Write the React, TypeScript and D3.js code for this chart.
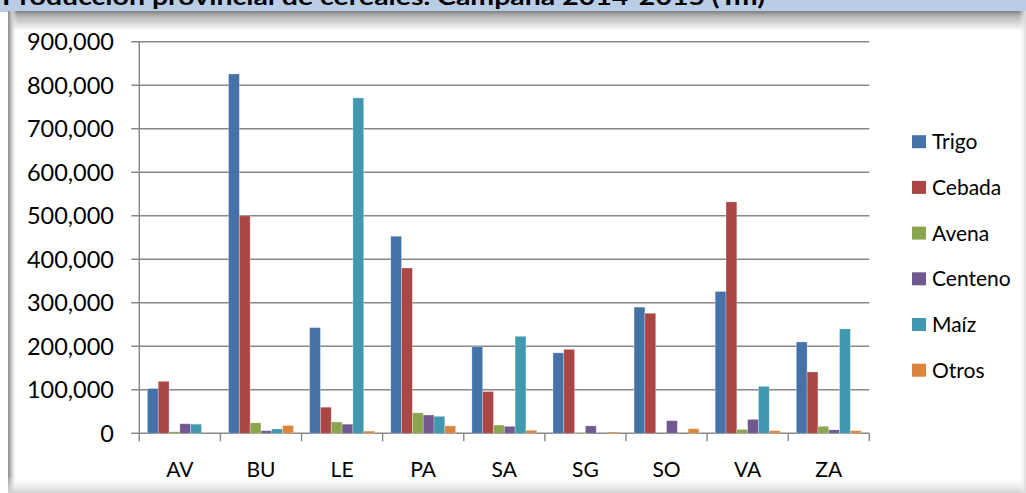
import React from "react";
import * as d3 from "d3";

const categories = ["AV", "BU", "LE", "PA", "SA", "SG", "SO", "VA", "ZA"];
const seriesNames = ["Trigo", "Cebada", "Avena", "Centeno", "Maíz", "Otros"];
const trigo = [103000, 826000, 243000, 453000, 199000, 185000, 290000, 326000, 210000];
const cebada = [119500, 500000, 60000, 380000, 96000, 193000, 276000, 532000, 141000];
const avena = [3500, 24000, 26000, 47000, 19000, 1500, 0, 9000, 16000];
const centeno = [22000, 6000, 21000, 42000, 16000, 17000, 29000, 32000, 8000];
const maiz = [21000, 10000, 771000, 39000, 223000, 0, 0, 108000, 240000];
const otros = [0, 18000, 5000, 17000, 7000, 3000, 10500, 6000, 6000];
const yTicks = [0, 100000, 200000, 300000, 400000, 500000, 600000, 700000, 800000, 900000];
const title = "Producción provincial de cereales. Campaña 2014-2015 (Tm)";

const seriesValues = [trigo, cebada, avena, centeno, maiz, otros];
const colors = ["#4572A7", "#AA4643", "#89A54E", "#71588F", "#4198AF", "#DB843D"];

const W = 1026;
const H = 493;
const plot = { left: 139.3, right: 869.3, top: 41.8, bottom: 433.3 };

export default function App() {
  const x = d3.scaleBand<string>().domain(categories).range([plot.left, plot.right]).paddingInner(0).paddingOuter(0);
  const y = d3.scaleLinear().domain([0, 900000]).range([plot.bottom, plot.top]);
  const bw = x.bandwidth();
  const barW = bw / 7.5;
  const inner = d3.scaleBand<string>().domain(seriesNames).range([0.75 * barW, bw - 0.75 * barW]);
  const fmt = d3.format(",");
  const font = "Lato, 'Open Sans', sans-serif";
  const grid = "#878787";

  return (
    <div style={{ position: "absolute", left: 0, top: 0, width: W, height: H }}>
      <svg width={W} height={H} style={{ display: "block" }}>
        <defs>
          <linearGradient id="topSh" x1="0" y1="0" x2="0" y2="1">
            <stop offset="0" stopColor="#7f7f7f" />
            <stop offset="0.25" stopColor="#b5b5b5" />
            <stop offset="1" stopColor="#ffffff" />
          </linearGradient>
          <linearGradient id="leftSh" x1="0" y1="0" x2="1" y2="0">
            <stop offset="0" stopColor="#8a8a8a" />
            <stop offset="0.4" stopColor="#c8c8c8" />
            <stop offset="1" stopColor="#ffffff" stopOpacity="0" />
          </linearGradient>
          <linearGradient id="botSh" x1="0" y1="0" x2="0" y2="1">
            <stop offset="0" stopColor="#ffffff" stopOpacity="0" />
            <stop offset="1" stopColor="#d0d0d0" />
          </linearGradient>
          <linearGradient id="rightSh" x1="0" y1="0" x2="1" y2="0">
            <stop offset="0" stopColor="#ffffff" stopOpacity="0" />
            <stop offset="1" stopColor="#dadada" />
          </linearGradient>
        </defs>
        <rect x={0} y={0} width={W} height={H} fill="#ffffff" />
        <rect x={0} y={0} width={W} height={12} fill="#B9CDE5" />
        <rect x={0} y={12} width={8} height={H - 12} fill="#ffffff" />
        <rect x={8} y={11} width={W - 8} height={20} fill="url(#topSh)" />
        <rect x={8} y={11} width={9} height={H - 11} fill="url(#leftSh)" />
        <rect x={8} y={476} width={W - 8} height={17} fill="url(#botSh)" />
        <rect x={1019} y={11} width={7} height={H - 11} fill="url(#rightSh)" />
        <text x={2} y={5} fontFamily={font} fontWeight="bold" fontSize={22} fill="#000" textLength={763} lengthAdjust="spacingAndGlyphs">
          {title}
        </text>

        {yTicks.map((t) => (
          <g key={t}>
            <line x1={plot.left - 8} x2={plot.right} y1={y(t)} y2={y(t)} stroke={grid} strokeWidth={1.4} />
            <text x={114} y={y(t) + 8.5} textAnchor="end" fontFamily={font} fontSize={23.5} fill="#000">
              {fmt(t)}
            </text>
          </g>
        ))}
        <line x1={plot.left} x2={plot.left} y1={plot.top} y2={plot.bottom} stroke={grid} strokeWidth={1.4} />
        {[...categories.map((c) => x(c) as number), plot.right].map((px, i) => (
          <line key={i} x1={px} x2={px} y1={plot.bottom} y2={plot.bottom + 8} stroke={grid} strokeWidth={1.4} />
        ))}

        {categories.map((c, ci) => (
          <g key={c} transform={`translate(${x(c)},0)`}>
            {seriesNames.map((s, si) => {
              const v = seriesValues[si][ci];
              if (!v) return null;
              return (
                <rect
                  key={s}
                  x={inner(s)}
                  y={y(v)}
                  width={inner.bandwidth()}
                  height={plot.bottom - y(v)}
                  fill={colors[si]}
                  stroke="#ffffff"
                  strokeOpacity={0.35}
                  strokeWidth={0.8}
                />
              );
            })}
            <text x={bw / 2} y={477} textAnchor="middle" fontFamily={font} fontSize={21} fill="#000">
              {c}
            </text>
          </g>
        ))}

        {seriesNames.map((s, i) => {
          const cy = 141.7 + i * 45.7;
          return (
            <g key={s}>
              <rect x={912} y={cy - 6.5} width={14} height={13} fill={colors[i]} />
              <text x={932} y={cy + 7.5} fontFamily={font} fontSize={21} fill="#000">
                {s}
              </text>
            </g>
          );
        })}
      </svg>
    </div>
  );
}
